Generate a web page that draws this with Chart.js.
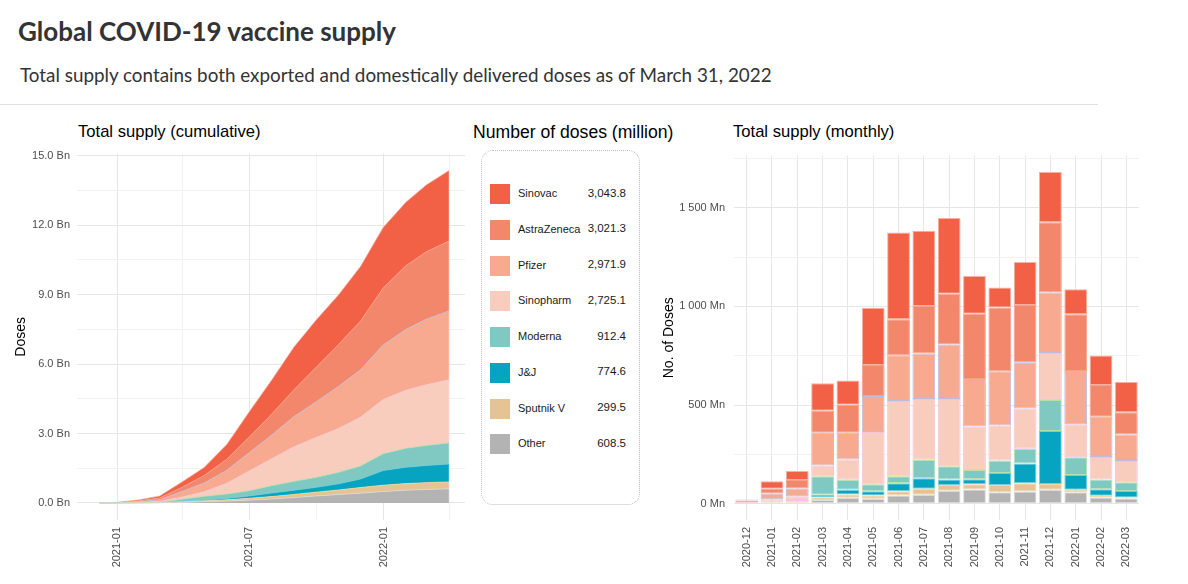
<!DOCTYPE html>
<html>
<head>
<meta charset="utf-8">
<script src="https://cdn.jsdelivr.net/npm/chart.js@4.4.1/dist/chart.umd.min.js"></script>
<style>
  html, body { margin:0; padding:0; background:#fff; }
  body { width:1188px; height:584px; position:relative; overflow:hidden; font-family:"Liberation Sans", Arial, sans-serif; }
  #title { position:absolute; left:18px; top:15px; font:700 26px Lato, "Open Sans", sans-serif; color:#333; white-space:nowrap; }
  #subtitle { position:absolute; left:20px; top:63px; font:400 18.85px Lato, "Open Sans", sans-serif; color:#333; white-space:nowrap; }
  #rule { position:absolute; left:0; top:104px; width:1098px; height:1px; background:#e0e0e0; }
  .ptitle { position:absolute; top:122px; font:400 16.6px "Liberation Sans", Arial, sans-serif; color:#000; white-space:nowrap; }
  #legTitle { position:absolute; left:473px; top:122px; font:400 17.6px "Liberation Sans", Arial, sans-serif; color:#000; white-space:nowrap; }
  #legBox { position:absolute; left:481px; top:150px; width:157px; height:353px; border:1px dotted #bdbdbd; border-radius:12px; }
  .sw { position:absolute; left:8px; width:20px; height:20px; }
  .ll { position:absolute; left:36px; font:400 11px "Liberation Sans", Arial, sans-serif; color:#1a1a1a; white-space:nowrap; }
  .lv { position:absolute; right:13px; font:400 11.5px "Liberation Sans", Arial, sans-serif; color:#1a1a1a; white-space:nowrap; text-align:right; }
  #c1wrap { position:absolute; left:0; top:140px; width:470px; height:440px; }
  #c2wrap { position:absolute; left:650px; top:140px; width:538px; height:440px; }
</style>
</head>
<body>
<div id="title">Global COVID-19 vaccine supply</div>
<div id="subtitle">Total supply contains both exported and domestically delivered doses as of March 31, 2022</div>
<div id="rule"></div>
<div class="ptitle" style="left:78px">Total supply (cumulative)</div>
<div class="ptitle" style="left:733px">Total supply (monthly)</div>
<div id="legTitle">Number of doses (million)</div>
<div id="legBox"></div>
<div id="c1wrap"><canvas id="c1" width="470" height="440"></canvas></div>
<div id="c2wrap"><canvas id="c2" width="538" height="440"></canvas></div>
<script>
// ---------------- DATA ----------------
const vaccines = ['Sinovac','AstraZeneca','Pfizer','Sinopharm','Moderna','J&J','Sputnik V','Other'];
const legendTotals = ['3,043.8','3,021.3','2,971.9','2,725.1','912.4','774.6','299.5','608.5'];
const colors = ['#f26046','#f2876c','#f7aa8f','#f9cdbd','#80c9c3','#07a4c2','#e5c394','#b3b3b3'];
const edgeColors = ['#f7b0a2','#f4a28c','#b9bde2','#f3c2dc','#b9e0a4','#6fcfe0','#f0d8ac','#dedede'];

// monthly supply (million doses)
const months = ['2020-12','2021-01','2021-02','2021-03','2021-04','2021-05','2021-06','2021-07','2021-08','2021-09','2021-10','2021-11','2021-12','2022-01','2022-02','2022-03'];
const sinovacMonthly     = [4, 38, 45, 140, 124, 291, 440, 382, 384, 192, 101, 219, 255, 127, 149, 153];
const astrazenecaMonthly = [3, 23, 43, 111, 141, 157, 182, 240, 257, 331, 324, 290, 356, 288, 161, 113];
const pfizerMonthly      = [8, 30, 39, 166, 136, 182, 232, 231, 277, 241, 275, 235, 307, 270, 205, 135];
const sinopharmMonthly   = [5, 12, 25, 55, 103, 265, 382, 309, 341, 221, 177, 204, 238, 167, 114, 107];
const modernaMonthly     = [1, 4, 3, 94, 50, 36, 36, 93, 67, 46, 64, 74, 158, 90, 49, 45];
const jjMonthly          = [0, 0, 0, 13, 25, 21.5, 40, 54, 27, 26, 60, 100, 268, 74, 33, 33];
const sputnikMonthly     = [0.5, 3, 6, 14, 16, 16, 22, 30, 30, 26, 37, 42, 30, 13, 9, 5];
const otherMonthly       = [0, 3, 4, 18, 30, 25, 41, 45, 65, 72, 58, 62, 70, 58, 31, 26];

// cumulative supply (million doses)
const cumDates = ['2020-12-08','2020-12-31','2021-01-31','2021-02-28','2021-03-31','2021-04-30','2021-05-31','2021-06-30','2021-07-31','2021-08-31','2021-09-30','2021-10-31','2021-11-30','2021-12-31','2022-01-31','2022-02-28','2022-03-31'];
const sinovacCum     = [0, 4, 42, 87, 227, 351, 642, 1082, 1464, 1848, 2040, 2141, 2360, 2615, 2742, 2891, 3044];
const astrazenecaCum = [0, 3, 26, 69, 180, 321, 478, 660, 900, 1157, 1488, 1812, 2102, 2458, 2746, 2907, 3020];
const pfizerCum      = [0, 8, 38, 77, 243, 379, 561, 793, 1024, 1301, 1542, 1817, 2052, 2359, 2629, 2834, 2969];
const sinopharmCum   = [0, 5, 17, 42, 97, 200, 465, 847, 1156, 1497, 1718, 1895, 2099, 2337, 2504, 2618, 2725];
const modernaCum     = [0, 1, 5, 8, 102, 152, 188, 224, 317, 384, 430, 494, 568, 726, 816, 865, 910];
const jjCum          = [0, 0, 0, 0, 13, 38, 59.5, 99.5, 153.5, 180.5, 206.5, 266.5, 366.5, 634.5, 708.5, 741.5, 774.5];
const sputnikCum     = [0, 0.5, 3.5, 9.5, 23.5, 39.5, 55.5, 77.5, 107.5, 137.5, 163.5, 200.5, 242.5, 272.5, 285.5, 294.5, 299.5];
const otherCum       = [0, 0, 3, 7, 25, 55, 80, 121, 166, 231, 303, 361, 423, 493, 551, 582, 608];

// tick labels
const leftXTickDates  = ['2021-01-01','2021-04-01','2021-07-01','2021-10-01','2022-01-01','2022-04-01'];
const leftXTickLabels = ['2021-01','','2021-07','','2022-01',''];
const leftYTicks      = [0,1500,3000,4500,6000,7500,9000,10500,12000,13500,15000];
const leftYTickLabels = ['0.0 Bn','','3.0 Bn','','6.0 Bn','','9.0 Bn','','12.0 Bn','','15.0 Bn'];
const rightYTicks      = [0,250,500,750,1000,1250,1500,1750];
const rightYTickLabels = ['0 Mn','','500 Mn','','1 000 Mn','','1 500 Mn',''];

const monthlyByVaccine = [sinovacMonthly, astrazenecaMonthly, pfizerMonthly, sinopharmMonthly, modernaMonthly, jjMonthly, sputnikMonthly, otherMonthly];
const cumByVaccine = [sinovacCum, astrazenecaCum, pfizerCum, sinopharmCum, modernaCum, jjCum, sputnikCum, otherCum];

// ---------------- LEGEND ----------------
const box = document.getElementById('legBox');
vaccines.forEach((v, i) => {
  const cy = 43 + 35.75 * i;
  const sw = document.createElement('div'); sw.className = 'sw'; sw.style.top = (cy - 10) + 'px'; sw.style.background = colors[i]; box.appendChild(sw);
  const l = document.createElement('div'); l.className = 'll'; l.style.top = (cy - 7) + 'px'; l.textContent = v; box.appendChild(l);
  const r = document.createElement('div'); r.className = 'lv'; r.style.top = (cy - 7.5) + 'px'; r.textContent = legendTotals[i]; box.appendChild(r);
});

// ---------------- CHARTS ----------------
Chart.defaults.font.family = '"Liberation Sans", Arial, sans-serif';
Chart.defaults.color = '#4d4d4d';
const MAJOR = '#e6e6e6', MINOR = '#f2f2f2';
const day = s => { const [y,m,d] = s.split('-').map(Number); return (Date.UTC(y, m-1, d) - Date.UTC(2021,0,1)) / 86400000; };

// stack bottom-up order: Other ... Sinovac
const order = [7,6,5,4,3,2,1,0];

new Chart(document.getElementById('c1'), {
  type: 'line',
  data: {
    datasets: order.map((vi, k) => ({
      label: vaccines[vi],
      data: cumDates.map((d, j) => ({ x: day(d), y: cumByVaccine[vi][j] })),
      backgroundColor: colors[vi],
      borderColor: edgeColors[vi],
      borderWidth: 0.7,
      pointRadius: 0,
      tension: 0,
      fill: k === 0 ? 'origin' : '-1'
    }))
  },
  options: {
    responsive: false, animation: false,
    layout: { padding: { top: 8, right: 4, left: 0, bottom: 0 } },
    plugins: { legend: { display: false }, tooltip: { enabled: false } },
    scales: {
      x: {
        type: 'linear', min: day('2020-11-07'), max: day('2022-04-22'),
        afterBuildTicks: s => { s.ticks = leftXTickDates.map(d => ({ value: day(d) })); },
        afterFit: s => { s.height = 60; },
        ticks: { autoSkip: false, minRotation: 90, maxRotation: 90, padding: 7, font: { size: 11 }, color: '#4d4d4d',
                 callback: (v, i) => leftXTickLabels[i] },
        grid: { drawTicks: false, color: c => (c.index % 2 === 0 ? MAJOR : MINOR), lineWidth: 1 },
        border: { display: false }
      },
      y: {
        stacked: true, min: -736, max: 15085,
        afterBuildTicks: s => { s.ticks = leftYTicks.map(v => ({ value: v })); },
        afterFit: s => { s.width = 77; },
        ticks: { autoSkip: false, padding: 7, font: { size: 11 }, color: '#4d4d4d', callback: (v, i) => leftYTickLabels[i] },
        grid: { drawTicks: false, color: c => (c.index % 2 === 0 ? MAJOR : MINOR), lineWidth: 1 },
        border: { display: false },
        title: { display: true, text: 'Doses', color: '#000', font: { size: 14 }, padding: { top: 13, bottom: 0 } }
      }
    }
  }
});

new Chart(document.getElementById('c2'), {
  type: 'bar',
  data: {
    labels: months,
    datasets: order.map(vi => ({
      label: vaccines[vi],
      data: monthlyByVaccine[vi],
      backgroundColor: colors[vi],
      borderColor: edgeColors[vi],
      borderWidth: 1,
      borderSkipped: false,
      categoryPercentage: 1.0,
      barPercentage: 0.9
    }))
  },
  options: {
    responsive: false, animation: false,
    layout: { padding: { top: 8, right: 49, left: 0, bottom: 0 } },
    plugins: { legend: { display: false }, tooltip: { enabled: false } },
    scales: {
      x: {
        stacked: true,
        afterFit: s => { s.height = 60; },
        ticks: { autoSkip: false, minRotation: 90, maxRotation: 90, padding: 7, font: { size: 11 }, color: '#4d4d4d' },
        grid: { offset: false, drawTicks: false, color: MAJOR, lineWidth: 1 },
        border: { display: false }
      },
      y: {
        stacked: true, min: -83, max: 1765,
        afterBuildTicks: s => { s.ticks = rightYTicks.map(v => ({ value: v })); },
        afterFit: s => { s.width = 84; },
        ticks: { autoSkip: false, padding: 9, font: { size: 11 }, color: '#4d4d4d', callback: (v, i) => rightYTickLabels[i] },
        grid: { drawTicks: false, color: c => (c.index % 2 === 0 ? MAJOR : MINOR), lineWidth: 1 },
        border: { display: false },
        title: { display: true, text: 'No. of Doses', color: '#000', font: { size: 14 }, padding: { top: 11, bottom: 0 } }
      }
    }
  }
});
</script>
</body>
</html>
